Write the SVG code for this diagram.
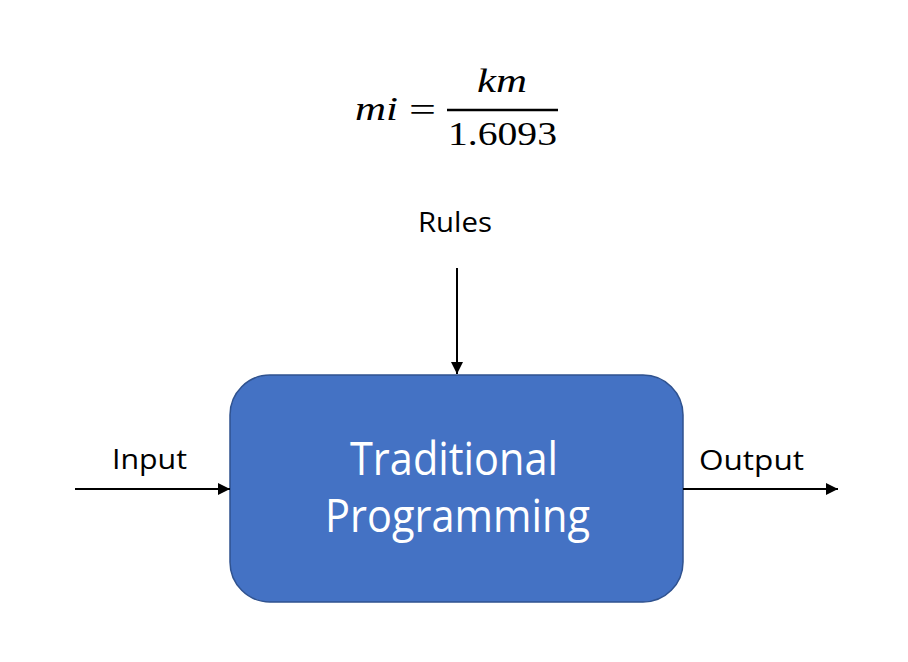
<svg xmlns="http://www.w3.org/2000/svg" width="908" height="662" viewBox="0 0 908 662">
  <style>
    .lbl { font-family: "Open Sans", "Liberation Sans", sans-serif; font-size: 28px; fill: #000; text-anchor: middle; }
    .big { font-family: "Open Sans", "Liberation Sans", sans-serif; font-size: 45px; fill: #fff; text-anchor: middle; }
    .math { font-family: "Liberation Serif", "DejaVu Serif", serif; font-size: 34px; fill: #000; }
    .conn { stroke: #000; stroke-width: 2; fill: none; }
  </style>
  <defs>
    <marker id="arrow" viewBox="0 0 10 10" refX="10" refY="5" markerWidth="6" markerHeight="6" markerUnits="strokeWidth" orient="auto">
      <path d="M0,0 L10,5 L0,10 z" fill="#000"/>
    </marker>
  </defs>
  <rect width="908" height="662" fill="#fff"/>

  <g id="equation">
    <text class="math" x="355" y="120" font-style="italic" textLength="43" lengthAdjust="spacingAndGlyphs">mi</text>
    <text class="math" x="409" y="121" textLength="27" lengthAdjust="spacingAndGlyphs">=</text>
    <line x1="447" y1="110" x2="558" y2="110" stroke="#000" stroke-width="2.5"/>
    <text class="math" x="477" y="92" font-style="italic" textLength="50" lengthAdjust="spacingAndGlyphs">km</text>
    <text class="math" x="448" y="145" textLength="109" lengthAdjust="spacingAndGlyphs">1.6093</text>
  </g>

  <g id="rules">
    <text class="lbl" x="455" y="232" textLength="74" lengthAdjust="spacingAndGlyphs">Rules</text>
  </g>

  <g id="input">
    <text class="lbl" x="149.5" y="469" textLength="75" lengthAdjust="spacingAndGlyphs">Input</text>
  </g>

  <g id="output">
    <text class="lbl" x="751.5" y="470" textLength="105" lengthAdjust="spacingAndGlyphs">Output</text>
  </g>

  <g id="traditional-programming">
    <rect x="230" y="375" width="453" height="227" rx="40" ry="40" fill="#4472C4" stroke="#2F528F" stroke-width="1.5"/>
    <text class="big" x="454" y="475" textLength="208" lengthAdjust="spacingAndGlyphs">Traditional</text>
    <text class="big" x="457.5" y="532" textLength="265" lengthAdjust="spacingAndGlyphs">Programming</text>
  </g>

  <g id="connectors">
    <line class="conn" x1="457" y1="268" x2="457" y2="374" marker-end="url(#arrow)"/>
    <line class="conn" x1="75" y1="489" x2="230" y2="489" marker-end="url(#arrow)"/>
    <line class="conn" x1="683" y1="489" x2="838" y2="489" marker-end="url(#arrow)"/>
  </g>
</svg>
